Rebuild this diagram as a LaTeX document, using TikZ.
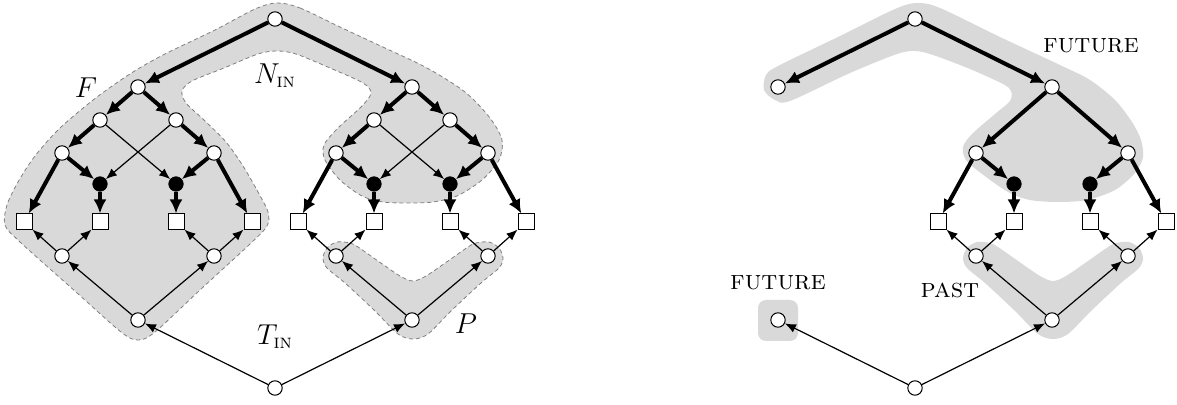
\documentclass[tikz,border=0pt]{standalone}
\usepackage{amsmath}
\usetikzlibrary{arrows.meta}
\begin{document}
\begin{tikzpicture}[x=0.5pt,y=-0.5pt,
	vtx/.style={circle,draw,fill=white,inner sep=0pt,minimum size=7.2pt,line width=0.5pt},
	blk/.style={circle,draw,fill=black,inner sep=0pt,minimum size=7.2pt},
	sq/.style={rectangle,draw,fill=white,inner sep=0pt,minimum size=8pt,line width=0.5pt},
	thk/.style={line width=2pt,-{Latex[length=7pt,width=6.5pt]}},
	thn/.style={line width=0.6pt,-{Latex[length=5.5pt,width=4.5pt]}},
	fillreg/.style={fill=black!15},
	dashreg/.style={fill=black!15,draw=black!50,dash pattern=on 2pt off 1.5pt,line width=0.4pt},
	lbl/.style={font=\Large},
	sclbl/.style={font=\fontsize{13.6}{15}\selectfont}]
	\useasboundingbox (0,0) rectangle (1177,405);
	
	% Regions F and P (left)
	\draw[dashreg] plot[smooth cycle,tension=0.5] coordinates {
		(277,3) (300,8) (340,27) (385,48) (427,68) (465,92) (490,118) (502,140)
		(499,160) (482,180) (457,196) (433,202) (408,203) (383,202) (362,196)
		(340,180) (325,160) (324,145) (338,128) (362,106) (371,93) (363,83)
		(330,68) (296,54) (277,51) (258,54) (224,68) (192,81) (182,91) (186,103)
		(204,120) (226,142) (243,166) (258,192) (268,212) (267,226) (250,244)
		(200,290) (155,332) (138,340) (121,332) (76,292) (20,242) (5,225) (7,205)
		(18,182) (35,156) (60,128) (97,97) (133,72) (165,54) (215,30) (255,9)};
	\draw[dashreg] plot[smooth cycle,tension=0.5] coordinates {
		(337,242) (350,243) (358,247) (378,261) (400,276) (413,281) (426,276)
		(448,261) (468,247) (476,243) (489,242) (499,248) (503,258) (499,268)
		(481,283) (451,311) (428,334) (413,339) (398,334) (375,311) (345,283)
		(327,268) (323,258) (327,248)};
	
	% Regions FUTURE and PAST (right)
	\fill[fillreg] plot[smooth cycle,tension=0.5] coordinates {
		(917,3) (940,8) (1000,37) (1060,65) (1090,80) (1115,100) (1132,122)
		(1141,140) (1143,157) (1135,173) (1115,190) (1087,200) (1058,202)
		(1030,200) (1008,192) (982,174) (966,160) (963,147) (972,134) (995,114)
		(1010,101) (1011,91) (1003,84) (970,69) (933,55) (915,51) (897,54)
		(850,73) (790,101) (775,100) (764,90) (766,75) (778,66) (840,36) (895,9)};
	\begin{scope}[shift={(640,0)}]
		\fill[fillreg] plot[smooth cycle,tension=0.5] coordinates {
			(337,242) (350,243) (358,247) (378,261) (400,276) (413,281) (426,276)
			(448,261) (468,247) (476,243) (489,242) (499,248) (503,258) (499,268)
			(481,283) (451,311) (428,334) (413,339) (398,334) (375,311) (345,283)
			(327,268) (323,258) (327,248)};
	\end{scope}
	\fill[fillreg,rounded corners=4pt] (758,300) rectangle (798,341);
	
	% Left graph
	\node[vtx] (t) at (275,19) {};
	\node[vtx] (z) at (275,388) {};
	\foreach \n/\x in {u1/138, u2/412}{
		\node[vtx] (\n) at (\x,87) {};
		\node[vtx] (q\n) at (\x,320) {};
	}
	\foreach \n/\x in {1/100, 2/176, 3/374, 4/450}{
		\node[vtx] (v\n) at (\x,120) {};
		\node[blk] (k\n) at (\x,184) {};
	}
	\foreach \n/\x in {1/62, 2/214, 3/336, 4/488}{
		\node[vtx] (w\n) at (\x,153) {};
		\node[vtx] (p\n) at (\x,256) {};
	}
	\foreach \n/\x in {1/24, 2/100, 3/176, 4/252, 5/298, 6/374, 7/450, 8/526}
		\node[sq] (s\n) at (\x,222) {};
	
	\foreach \a/\b in {t/u1, t/u2, u1/v1, u1/v2, u2/v3, u2/v4, v1/w1, v2/w2, v3/w3, v4/w4,
		w1/k1, w2/k2, w3/k3, w4/k4, w1/s1, w2/s4, w3/s5, w4/s8, k1/s2, k2/s3, k3/s6, k4/s7}
		\draw[thk] (\a) -- (\b);
	\foreach \a/\b in {v1/k2, v2/k1, v3/k4, v4/k3, z/qu1, z/qu2, qu1/p1, qu1/p2, qu2/p3, qu2/p4,
		p1/s1, p1/s2, p2/s3, p2/s4, p3/s5, p3/s6, p4/s7, p4/s8}
		\draw[thn] (\a) -- (\b);
	
	% Right graph
	\node[vtx] (rt) at (915,19) {};
	\node[vtx] (rz) at (915,388) {};
	\foreach \n/\x in {u1/778, u2/1052}{
		\node[vtx] (r\n) at (\x,87) {};
		\node[vtx] (rq\n) at (\x,320) {};
	}
	\foreach \n/\x in {3/976, 4/1128}{
		\node[vtx] (rw\n) at (\x,153) {};
		\node[vtx] (rp\n) at (\x,256) {};
	}
	\foreach \n/\x in {3/1014, 4/1090}
		\node[blk] (rk\n) at (\x,184) {};
	\foreach \n/\x in {5/938, 6/1014, 7/1090, 8/1166}
		\node[sq] (rs\n) at (\x,222) {};
	
	\foreach \a/\b in {rt/ru1, rt/ru2, ru2/rw3, ru2/rw4, rw3/rk3, rw4/rk4,
		rw3/rs5, rw4/rs8, rk3/rs6, rk4/rs7}
		\draw[thk] (\a) -- (\b);
	\foreach \a/\b in {rz/rqu1, rz/rqu2, rqu2/rp3, rqu2/rp4, rp3/rs5, rp3/rs6, rp4/rs7, rp4/rs8}
		\draw[thn] (\a) -- (\b);
	
	% Labels
	\node[lbl] (fl) at (86,88) {$F$};
	\node[lbl] (nin) at (275,76) {$N_{\text{\textsc{in}}}$};
	\node[lbl] (tin) at (275,337) {$T_{\text{\textsc{in}}}$};
	\node[lbl] (pl) at (466,324) {$P$};
	\node[sclbl] (fut) at (1091,46) {\textsc{future}};
	\node[sclbl] (futb) at (778,283) {\textsc{future}};
	\node[sclbl] (past) at (950,290) {\textsc{past}};
\end{tikzpicture}
\end{document}
